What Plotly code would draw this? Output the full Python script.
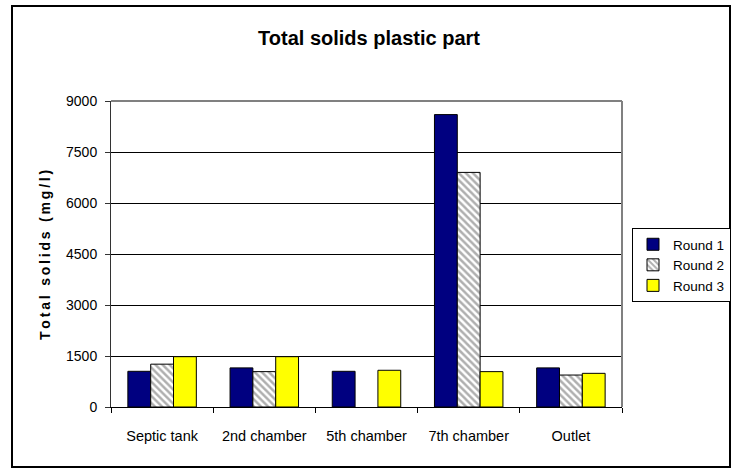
import plotly.graph_objects as go

categories = ["Septic tank", "2nd chamber", "5th chamber", "7th chamber", "Outlet"]
round1 = [1050, 1150, 1050, 8600, 1150]
round2 = [1260, 1040, None, 6900, 940]
round3 = [1480, 1480, 1080, 1040, 990]
y_ticks = [0, 1500, 3000, 4500, 6000, 7500, 9000]

FONT = "Arial, Liberation Sans, sans-serif"

W, H = 738, 470
L, R, T, B = 111, 622, 101, 407
pw, ph = R - L, B - T

def px(x):
    return (x - L) / pw

def py(y):
    return (B - y) / ph

fig = go.Figure()
fig.add_trace(go.Bar(
    x=categories, y=round1, name="Round 1", legendgroup="r1",
    marker=dict(color="#000080", line=dict(color="black", width=1)),
))
fig.add_trace(go.Bar(
    x=categories, y=round2, name="Round 2", legendgroup="r2",
    marker=dict(color="white", line=dict(color="black", width=1),
                pattern=dict(shape="\\", fgcolor="#606060", bgcolor="white",
                             size=5, solidity=0.5)),
))
fig.add_trace(go.Bar(
    x=categories, y=round3, name="Round 3", legendgroup="r3",
    marker=dict(color="#FFFF00", line=dict(color="black", width=1)),
))

fig.update_layout(
    width=W, height=H,
    margin=dict(l=L, r=W - R, t=T, b=H - B, autoexpand=False),
    paper_bgcolor="white", plot_bgcolor="white",
    barmode="group", bargap=0.33, bargroupgap=0,
    font=dict(family=FONT, size=14, color="black"),
    title=dict(text="<b>Total solids plastic part</b>", x=0.5, xref="container",
               xanchor="center", y=1 - 38 / H, yref="container", yanchor="middle",
               font=dict(family=FONT, size=20, color="black")),
    legend=dict(x=px(632), y=py(228), xanchor="left", yanchor="top",
                bordercolor="black", borderwidth=1, bgcolor="white",
                font=dict(family=FONT, size=13.5, color="black"),
                itemwidth=30, tracegroupgap=6, traceorder="normal"),
    showlegend=True,
)

fig.update_xaxes(
    type="category", showgrid=False, showline=True, linecolor="black", linewidth=1,
    ticks="outside", tickson="boundaries", ticklen=5, tickcolor="black",
    ticklabelstandoff=16, tickfont=dict(family=FONT, size=14.5, color="black"),
)
fig.update_yaxes(
    range=[0, 9000], tickvals=y_ticks, ticktext=[str(v) for v in y_ticks],
    showgrid=True, gridcolor="black", gridwidth=1,
    showline=True, linecolor="#333333", linewidth=1,
    ticks="outside", ticklen=5, tickcolor="#333333", ticklabelstandoff=5,
    tickfont=dict(family=FONT, size=14, color="black"), zeroline=False,
)

# Y axis title (letter-spaced with thin spaces)
ytitle = "\u2009".join("Total solids (mg/l)")
fig.add_annotation(
    text="<b>" + ytitle + "</b>", xref="paper", yref="paper",
    x=px(45), y=py(255), xanchor="center", yanchor="middle", textangle=-90,
    showarrow=False, font=dict(family=FONT, size=14, color="black"),
)

# plot area top/right border (grey)
fig.add_shape(type="line", xref="paper", yref="paper", x0=0, x1=1, y0=1, y1=1,
              line=dict(color="#808080", width=2))
fig.add_shape(type="line", xref="paper", yref="paper", x0=1, x1=1, y0=0, y1=1,
              line=dict(color="#808080", width=2))

# outer chart border
fig.add_shape(type="rect", xref="paper", yref="paper",
              x0=px(12), x1=px(730), y0=py(467), y1=py(6),
              line=dict(color="black", width=2), fillcolor="rgba(0,0,0,0)", layer="above")

fig.write_html("out.html")
